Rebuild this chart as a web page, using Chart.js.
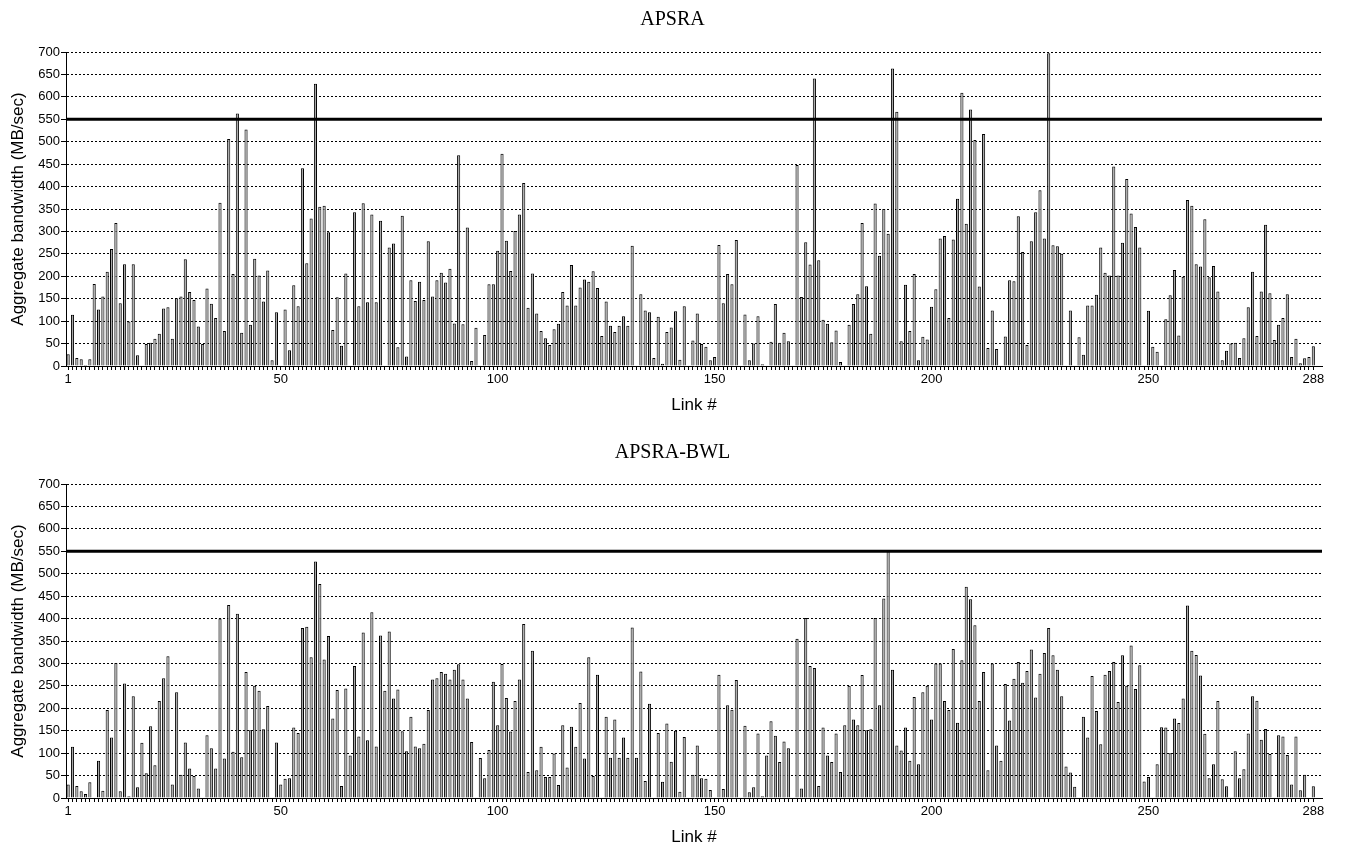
<!DOCTYPE html>
<html>
<head>
<meta charset="utf-8">
<title>APSRA / APSRA-BWL link bandwidth</title>
<script src="https://cdn.jsdelivr.net/npm/chart.js@4.4.1/dist/chart.umd.min.js"></script>
<style>
  html, body { margin: 0; padding: 0; background: #fff; overflow: hidden; }
  canvas { position: absolute; left: 0; }
  #apsraChart { top: 0; }
  #bwlChart { top: 432px; }
  .panel-title {
    position: absolute; left: 0; width: 1345px; text-align: center;
    font: 20px/24px 'Liberation Serif', serif; color: #000;
  }
</style>
</head>
<body>
<canvas id="apsraChart" width="1345" height="416"></canvas>
<canvas id="bwlChart" width="1345" height="416"></canvas>
<div class="panel-title" style="top: 6px;">APSRA</div>
<div class="panel-title" style="top: 439px;">APSRA-BWL</div>
<script>
// link numbers on the x axis, and the ones that get a label
const linkNumbers = Array.from({ length: 288 }, (_, i) => i + 1);
const labelledLinks = [1, 50, 100, 150, 200, 250, 288];
const bandwidthLimit = 550;

// aggregate bandwidth per link (MB/sec)
const apsraBandwidth = [
  26, 114, 18, 15, 2, 15, 183, 126, 155, 210,
  261, 319, 140, 227, 99, 227, 24, 0, 49, 52,
  61, 72, 128, 131, 61, 151, 155, 238, 165, 147,
  88, 49, 173, 139, 107, 364, 78, 506, 205, 563,
  74, 527, 92, 239, 202, 144, 213, 13, 120, 0,
  126, 35, 180, 133, 441, 229, 329, 629, 355, 357,
  298, 80, 153, 45, 206, 0, 343, 133, 363, 142,
  338, 142, 324, 0, 264, 273, 42, 335, 21, 191,
  145, 188, 147, 278, 155, 191, 208, 186, 217, 95,
  470, 93, 309, 11, 85, 0, 69, 182, 182, 257,
  473, 279, 212, 301, 338, 408, 130, 206, 117, 78,
  62, 47, 82, 94, 165, 135, 225, 135, 175, 193,
  188, 211, 174, 67, 144, 90, 76, 90, 111, 90,
  268, 0, 160, 124, 120, 18, 110, 5, 76, 86,
  122, 14, 133, 0, 57, 117, 49, 43, 13, 20,
  270, 140, 205, 182, 281, 0, 115, 13, 50, 111,
  4, 0, 54, 138, 52, 74, 55, 0, 448, 154,
  276, 226, 641, 236, 103, 94, 53, 79, 9, 0,
  92, 138, 160, 319, 178, 72, 362, 246, 350, 295,
  663, 567, 55, 181, 78, 205, 13, 65, 59, 132,
  171, 284, 290, 107, 282, 373, 609, 317, 572, 504,
  177, 517, 40, 124, 38, 0, 66, 191, 189, 334,
  254, 47, 278, 343, 392, 284, 697, 269, 267, 250,
  0, 124, 0, 64, 25, 135, 135, 159, 264, 208,
  202, 445, 202, 275, 417, 340, 310, 264, 0, 123,
  43, 32, 0, 104, 158, 214, 68, 199, 370, 357,
  227, 222, 327, 198, 223, 166, 13, 34, 50, 52,
  18, 62, 131, 210, 67, 166, 315, 162, 58, 92,
  107, 160, 20, 61, 6, 17, 20, 44
];

const bwlBandwidth = [
  30, 114, 27, 15, 9, 35, 0, 83, 16, 196,
  135, 301, 15, 255, 4, 227, 24, 123, 55, 160,
  73, 216, 267, 316, 30, 236, 52, 124, 66, 49,
  21, 0, 140, 111, 66, 400, 88, 430, 103, 411,
  91, 281, 151, 250, 239, 153, 205, 0, 124, 30,
  43, 44, 157, 145, 379, 382, 314, 527, 477, 309,
  361, 177, 241, 27, 244, 95, 294, 137, 369, 129,
  414, 115, 362, 239, 371, 222, 242, 149, 104, 181,
  115, 111, 121, 196, 264, 267, 281, 277, 264, 286,
  298, 264, 222, 125, 0, 89, 44, 107, 259, 162,
  299, 223, 148, 216, 264, 388, 58, 328, 62, 114,
  47, 47, 99, 29, 162, 68, 159, 114, 212, 88,
  314, 49, 275, 0, 181, 90, 175, 90, 135, 90,
  380, 90, 282, 38, 210, 0, 145, 36, 166, 81,
  150, 14, 136, 0, 52, 117, 44, 43, 18, 0,
  275, 20, 207, 197, 263, 0, 161, 13, 24, 144,
  4, 95, 171, 139, 80, 126, 111, 0, 355, 21,
  401, 294, 290, 27, 157, 95, 80, 144, 58, 162,
  250, 175, 162, 274, 151, 153, 401, 207, 445, 550,
  286, 117, 106, 157, 83, 225, 75, 236, 250, 175,
  300, 300, 216, 196, 332, 168, 307, 471, 443, 385,
  216, 281, 62, 300, 117, 83, 254, 173, 266, 303,
  257, 283, 331, 224, 277, 323, 379, 318, 286, 227,
  70, 57, 25, 0, 181, 135, 272, 194, 120, 275,
  283, 303, 214, 318, 250, 340, 243, 296, 37, 47,
  0, 75, 158, 157, 100, 177, 167, 222, 429, 328,
  319, 273, 143, 44, 75, 216, 42, 26, 0, 104,
  44, 64, 144, 227, 217, 130, 154, 98, 0, 140,
  137, 96, 30, 137, 17, 52, 0, 26
];

// thick horizontal line at the bandwidth limit
const limitLine = {
  id: 'limitLine',
  afterDatasetsDraw(chart) {
    const { ctx, chartArea } = chart;
    const y = chart.scales.y.getPixelForValue(bandwidthLimit);
    ctx.save();
    ctx.strokeStyle = '#000';
    ctx.lineWidth = 3;
    ctx.beginPath();
    ctx.moveTo(chartArea.left, y);
    ctx.lineTo(chartArea.right, y);
    ctx.stroke();
    ctx.restore();
  }
};

function drawPanel(id, values) {
  const axisFont = { family: 'Liberation Sans', size: 17 };
  const tickFont = { family: 'Liberation Sans', size: 13 };
  new Chart(document.getElementById(id), {
    type: 'bar',
    data: {
      datasets: [{
        data: values.map((v, i) => ({ x: linkNumbers[i], y: v })),
        backgroundColor: '#a8a8a8',
        borderColor: '#000',
        borderWidth: 1,
        barPercentage: 0.72,
        categoryPercentage: 1
      }]
    },
    options: {
      responsive: false,
      animation: false,
      devicePixelRatio: 1,
      layout: { padding: { left: 4, right: 23, top: 52, bottom: 0 } },
      plugins: {
        legend: { display: false },
        tooltip: { enabled: false }
      },
      scales: {
        x: {
          type: 'linear',
          min: 0.5,
          max: 290,
          offset: false,
          afterBuildTicks: s => { s.ticks = linkNumbers.map(v => ({ value: v })); },
          ticks: {
            autoSkip: false,
            maxRotation: 0,
            padding: 2,
            color: '#000',
            font: tickFont,
            callback: v => labelledLinks.includes(v) ? String(v) : ''
          },
          grid: { drawOnChartArea: false, tickLength: 4, color: '#000', offset: false },
          border: { display: true, color: '#000', width: 1 },
          title: { display: true, text: 'Link #', color: '#000', font: axisFont, padding: { top: 6, bottom: 0 } }
        },
        y: {
          min: 0,
          max: 700,
          afterFit: s => { s.width = 62; },
          ticks: { stepSize: 50, padding: 1, color: '#000', font: tickFont },
          grid: { color: '#000', lineWidth: 1, tickLength: 5 },
          border: { display: true, color: '#000', width: 1, dash: [2, 2] },
          title: {
            display: true,
            text: 'Aggregate bandwidth (MB/sec)',
            color: '#000',
            font: axisFont,
            padding: { top: 4, bottom: 4 }
          }
        }
      }
    },
    plugins: [limitLine]
  });
}

drawPanel('apsraChart', apsraBandwidth);
drawPanel('bwlChart', bwlBandwidth);
</script>
</body>
</html>
